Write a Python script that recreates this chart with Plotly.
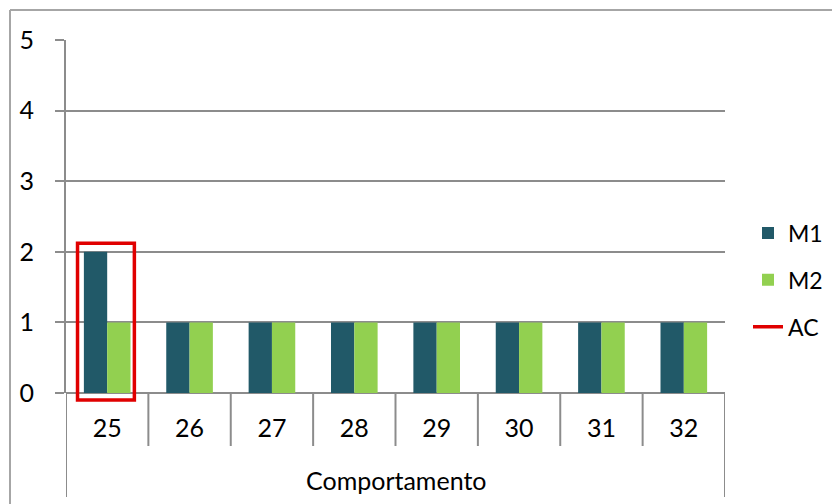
import plotly.graph_objects as go

# --- data ---
CATEGORIES = ["25", "26", "27", "28", "29", "30", "31", "32"]
M1 = [2, 1, 1, 1, 1, 1, 1, 1]
M2 = [1, 1, 1, 1, 1, 1, 1, 1]
AC_CATEGORY = "25"          # category highlighted by the red AC box
GROUP_LABEL = "Comportamento"
Y_MAX = 5

TEAL = "#215968"
GREEN = "#92D050"
RED = "#E00000"
GRID = "#8c8c8c"
BORDER = "#a6a6a6"
FONT = "Lato, 'Open Sans', sans-serif"
FS = 25

# target plot area in screen pixels: x 66..725, y 40..393 (page body adds an 8px offset)
OFF = 8
W, H = 840, 504
L, T = 66 - OFF, 40 - OFF
PW, PH = 659, 353
R, B = W - L - PW, H - T - PH

xs = list(range(len(CATEGORIES)))
fig = go.Figure()
fig.add_trace(go.Bar(x=xs, y=M1, name="M1", legendgroup="m1",
                     marker=dict(color=TEAL, line_width=0)))
fig.add_trace(go.Bar(x=xs, y=M2, name="M2", legendgroup="m2",
                     marker=dict(color=GREEN, line_width=0)))
# legend entry for the AC box (the box itself is a shape so it can cross the axis)
fig.add_trace(go.Scatter(x=[None], y=[None], mode="lines", name="AC", legendgroup="ac",
                         line=dict(color=RED, width=3.5), hoverinfo="skip"))


# screen-pixel -> paper coordinates
def px_x(p):
    return (p - OFF - L) / PW


def px_y(p):
    return (T + PH - (p - OFF)) / PH


shapes = []
# AC highlight box around the chosen category (y in paper units so it is not clipped)
i = CATEGORIES.index(AC_CATEGORY)
top = (max(M1[i], M2[i]) + 0.12) / Y_MAX
shapes.append(dict(type="rect", xref="x", yref="paper", x0=i - 0.36, x1=i + 0.33,
                   y0=-0.1 / Y_MAX, y1=top, line=dict(color=RED, width=3.5),
                   fillcolor="rgba(0,0,0,0)", layer="above"))
# category separators below the axis
for k in range(len(CATEGORIES) + 1):
    y_end = 497 if k in (0, len(CATEGORIES)) else 446
    shapes.append(dict(type="line", xref="x", yref="paper", x0=k - 0.5, x1=k - 0.5,
                       y0=0, y1=px_y(y_end), line=dict(color=GRID, width=2)))
# outer chart border (left + top)
shapes.append(dict(type="line", xref="paper", yref="paper", x0=px_x(10), x1=px_x(10),
                   y0=px_y(10), y1=px_y(520), line=dict(color=BORDER, width=2)))
shapes.append(dict(type="line", xref="paper", yref="paper", x0=px_x(10), x1=px_x(850),
                   y0=px_y(10), y1=px_y(10), line=dict(color=BORDER, width=2)))

fig.update_layout(
    width=W, height=H,
    margin=dict(l=L, r=R, t=T, b=B, autoexpand=False),
    paper_bgcolor="white", plot_bgcolor="white",
    font=dict(family=FONT, size=FS, color="#000000"),
    barmode="group", bargap=0.434, bargroupgap=0,
    shapes=shapes,
    showlegend=True,
    legend=dict(x=px_x(748), y=px_y(280), yanchor="middle", xanchor="left",
                font=dict(size=FS - 2), itemwidth=30, traceorder="grouped",
                tracegroupgap=14, bgcolor="rgba(0,0,0,0)"),
    annotations=[dict(text=GROUP_LABEL, xref="paper", yref="paper",
                      x=0.5, y=px_y(480), showarrow=False,
                      font=dict(size=FS), xanchor="center", yanchor="middle")],
)
fig.update_xaxes(range=[-0.5, len(CATEGORIES) - 0.5], tickvals=xs, ticktext=CATEGORIES,
                 showgrid=False, zeroline=False, showline=False, ticks="",
                 ticklabelstandoff=18, fixedrange=True)
fig.update_yaxes(range=[0, Y_MAX], dtick=1, showgrid=True, gridcolor=GRID, gridwidth=2,
                 zeroline=True, zerolinecolor=GRID, zerolinewidth=2,
                 showline=True, linecolor=GRID, linewidth=2,
                 ticks="outside", ticklen=9, tickcolor=GRID, tickwidth=2,
                 ticklabelstandoff=16, fixedrange=True)

fig.write_html("out.html")
